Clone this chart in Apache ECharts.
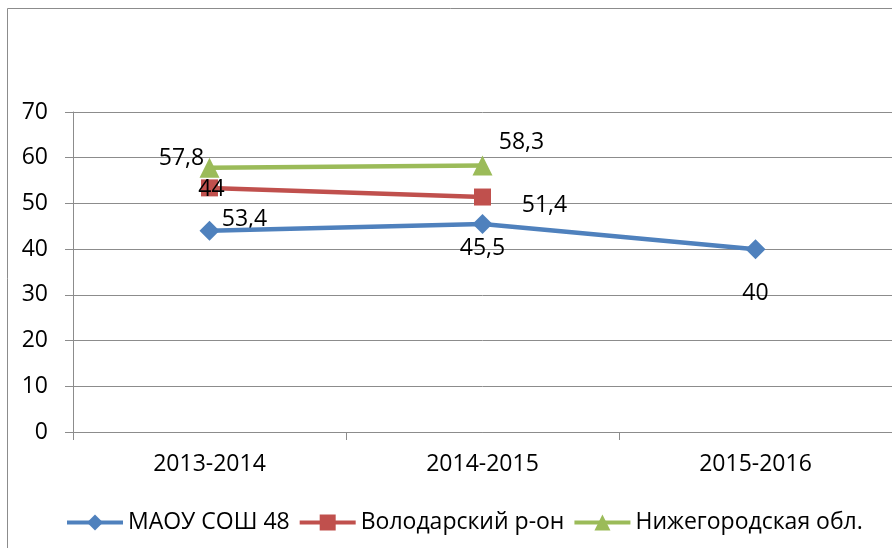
<!DOCTYPE html>
<html>
<head>
<meta charset="utf-8">
<script src="https://cdn.jsdelivr.net/npm/echarts@6.0.0/dist/echarts.min.js"></script>
<style>
  html, body { margin: 0; padding: 0; background: #fff; }
  #chart { width: 892px; height: 548px; }
</style>
</head>
<body>
<div id="chart"></div>
<script>
// данные
const years = ['2013-2014', '2014-2015', '2015-2016']
const school = [44, 45.5, 40]
const district = [53.4, 51.4, null]
const region = [57.8, 58.3, null]
const yTicks = [0, 10, 20, 30, 40, 50, 60, 70]

// смещения подписей (как в исходной диаграмме)
const schoolOffsets = [[2, -41], [0, 24], [0, 44]]
const districtOffsets = [[35, 32], [62, 8]]
const regionOffsets = [[-28, -9], [39, -23]]

const FONT = '"Open Sans", "Noto Sans", sans-serif'
const FS = 23
const fmt = v => String(v).replace('.', ',')

const withLabels = (values, offsets) => values.map((v, i) => ({
  value: v,
  label: { offset: offsets[i] || [0, 0] }
}))

const labelStyle = {
  show: true,
  position: 'inside',
  color: '#000',
  fontFamily: FONT,
  fontSize: FS,
  formatter: p => fmt(p.value)
}

const chart = echarts.init(document.getElementById('chart'))
chart.setOption({
  animation: false,
  backgroundColor: '#fff',
  graphic: [{
    type: 'rect',
    shape: { x: 7.5, y: 8.5, width: 1000, height: 1000 },
    style: { fill: 'none', stroke: '#8c8c8c', lineWidth: 1 },
    z: -1
  }],
  grid: { left: 73, top: 112, right: -2, bottom: 116 },
  legend: {
    bottom: 9,
    left: 60,
    itemWidth: 56,
    itemHeight: 20,
    itemGap: 8,
    lineStyle: { width: 4 },
    textStyle: { fontFamily: FONT, fontSize: FS, color: '#000' },
    data: ['МАОУ СОШ 48', 'Володарский р-он', 'Нижегородская обл.']
  },
  xAxis: {
    type: 'category',
    data: years,
    boundaryGap: true,
    axisLine: { lineStyle: { color: '#8c8c8c', width: 1 } },
    axisTick: { show: true, length: 8, lineStyle: { color: '#8c8c8c' } },
    axisLabel: { fontFamily: FONT, fontSize: FS, color: '#000', margin: 21 }
  },
  yAxis: {
    type: 'value',
    min: yTicks[0],
    max: yTicks[yTicks.length - 1],
    interval: 10,
    axisLine: { show: true, lineStyle: { color: '#8c8c8c', width: 1 } },
    axisTick: { show: true, length: 8, inside: false, lineStyle: { color: '#8c8c8c' } },
    splitLine: { lineStyle: { color: '#8c8c8c', width: 1 } },
    axisLabel: { fontFamily: FONT, fontSize: FS, color: '#000', margin: 25 }
  },
  series: [
    {
      name: 'МАОУ СОШ 48',
      type: 'line',
      data: withLabels(school, schoolOffsets),
      symbol: 'diamond',
      symbolSize: 20,
      lineStyle: { width: 4.5, color: '#4F81BD' },
      itemStyle: { color: '#4F81BD' },
      label: labelStyle,
      z: 3
    },
    {
      name: 'Володарский р-он',
      type: 'line',
      data: withLabels(district, districtOffsets),
      symbol: 'rect',
      symbolSize: 17,
      lineStyle: { width: 4.5, color: '#C0504D' },
      itemStyle: { color: '#C0504D' },
      label: labelStyle,
      z: 2
    },
    {
      name: 'Нижегородская обл.',
      type: 'line',
      data: withLabels(region, regionOffsets),
      symbol: 'triangle',
      symbolSize: 20,
      lineStyle: { width: 4.5, color: '#9BBB59' },
      itemStyle: { color: '#9BBB59' },
      label: labelStyle,
      z: 4
    }
  ]
})
</script>
</body>
</html>
